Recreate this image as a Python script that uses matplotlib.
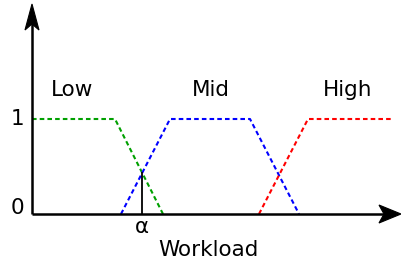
import numpy as np
import matplotlib
matplotlib.use("Agg")
import matplotlib.pyplot as plt
from matplotlib.patches import Polygon

# membership functions (workload units, membership 0..1)
low_x = [0, 8.3, 13.1]
low_y = [1, 1, 0]
mid_x = [8.9, 13.8, 21.8, 26.7]
mid_y = [0, 1, 1, 0]
high_x = [22.7, 27.6, 36.0]
high_y = [0, 1, 1]

labels = ["Low", "Mid", "High"]
label_x = [4.0, 17.9, 31.6]

PX_X = 10.0   # pixels per workload unit
PX_Y = 95.0   # pixels per membership unit

fig = plt.figure(figsize=(4.01, 2.64), dpi=100)
ax = fig.add_axes([0, 0, 1, 1])
ax.set_xlim(-3.2, 36.9)
ax.set_ylim((214 - 264) / PX_Y, 214 / PX_Y)
ax.axis("off")

dash = (0, (2.2, 1.5))
ax.plot(low_x, low_y, color="#00a000", linestyle=dash, linewidth=1.5)
ax.plot(mid_x, mid_y, color="#0000ff", linestyle=dash, linewidth=1.5)
ax.plot(high_x, high_y, color="#ff0000", linestyle=dash, linewidth=1.5)

# axes with stealth arrowheads
y_top = 210 / PX_Y
x_end = 369 / PX_X
ax.plot([0, 0], [0, y_top - 15 / PX_Y], color="black", lw=1.8, solid_capstyle="butt")
ax.plot([0, x_end - 15 / PX_X], [0, 0], color="black", lw=1.8, solid_capstyle="butt")

def stealth(tip, direction, length, width, notch):
    tx, ty = tip
    if direction == "up":
        pts = [(0, 0), (-width / 2, -length), (0, -length + notch), (width / 2, -length)]
    else:
        pts = [(0, 0), (-length, width / 2), (-length + notch, 0), (-length, -width / 2)]
    pts = [(tx + dx / PX_X, ty + dy / PX_Y) for dx, dy in pts]
    ax.add_patch(Polygon(pts, closed=True, facecolor="black", edgecolor="black", lw=0.8))

stealth((0, y_top), "up", 26, 14, 6)
stealth((x_end, 0), "right", 22, 18, 5)

# alpha: crossing of Low and Mid
s1 = (low_y[2] - low_y[1]) / (low_x[2] - low_x[1])
s2 = (mid_y[1] - mid_y[0]) / (mid_x[1] - mid_x[0])
xa = (mid_y[0] - s2 * mid_x[0] - low_y[1] + s1 * low_x[1]) / (s1 - s2)
ya = low_y[1] + s1 * (xa - low_x[1])
ax.plot([xa, xa], [0, ya], color="black", linewidth=1.3)

fs = 15.5
for lab, lx in zip(labels, label_x):
    ax.text(lx, 1.31, lab, fontsize=fs, ha="center", va="center")
ax.text(-1.5, 1.0, "1", fontsize=fs, ha="center", va="center")
ax.text(-1.5, 0.06, "0", fontsize=fs, ha="center", va="center")
ax.text(xa, -0.14, "α", fontsize=fs, ha="center", va="center")
ax.text(17.6, -0.375, "Workload", fontsize=fs, ha="center", va="center")

fig.savefig("out.png", dpi=100)
